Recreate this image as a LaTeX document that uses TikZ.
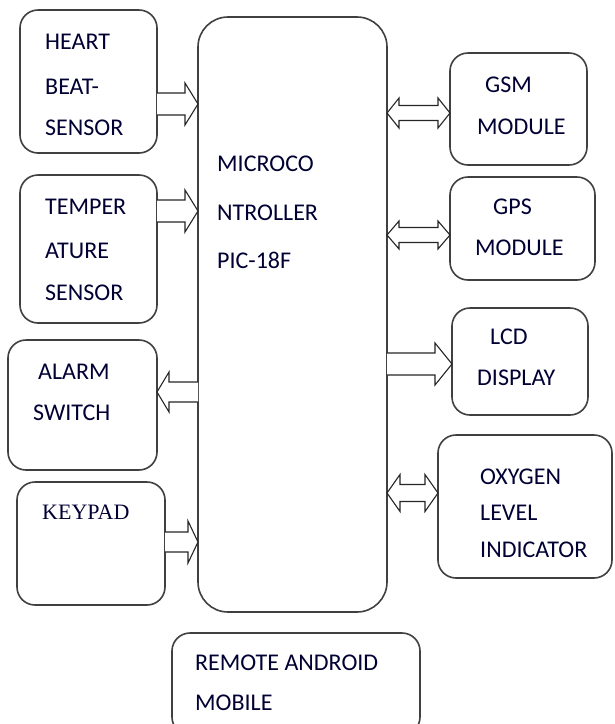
\documentclass[tikz,border=0pt]{standalone}
\usepackage{fontspec}
\setmainfont{Carlito}
\newfontfamily\timesfont{Liberation Serif}
\usetikzlibrary{calc}
\tikzset{
  box/.style={draw=black!75, line width=1.6pt, rounded corners=18pt, inner sep=0pt, outer sep=0pt},
  bigbox/.style={box, rounded corners=30pt},
  lbl/.style={anchor=west, inner sep=0pt, text height=15pt, text depth=0pt, font=\fontsize{24}{24}\selectfont, text=black!80!blue},
  blk/.style={draw=black!85, line width=1.1pt, fill=white, line join=miter},
}
% right arrow from #1.east to #2.west at y=#3, shaft half #4, head half #5, head length #6
\newcommand\rarr[6]{%
  \draw[blk] (#1.east |- 0,#3-#4) -- ($(#2.west |- 0,#3-#4)+(-#6,0)$) -- ($(#2.west |- 0,#3-#5)+(-#6,0)$)
    -- (#2.west |- 0,#3) -- ($(#2.west |- 0,#3+#5)+(-#6,0)$) -- ($(#2.west |- 0,#3+#4)+(-#6,0)$) -- (#1.east |- 0,#3+#4);}
% left arrow from #1.west to #2.east
\newcommand\larr[6]{%
  \draw[blk] (#1.west |- 0,#3-#4) -- ($(#2.east |- 0,#3-#4)+(#6,0)$) -- ($(#2.east |- 0,#3-#5)+(#6,0)$)
    -- (#2.east |- 0,#3) -- ($(#2.east |- 0,#3+#5)+(#6,0)$) -- ($(#2.east |- 0,#3+#4)+(#6,0)$) -- (#1.west |- 0,#3+#4);}
% double arrow between #1.east and #2.west
\newcommand\darr[6]{%
  \draw[blk] (#1.east |- 0,#3) -- ($(#1.east |- 0,#3-#5)+(#6,0)$) -- ($(#1.east |- 0,#3-#4)+(#6,0)$)
    -- ($(#2.west |- 0,#3-#4)+(-#6,0)$) -- ($(#2.west |- 0,#3-#5)+(-#6,0)$) -- (#2.west |- 0,#3)
    -- ($(#2.west |- 0,#3+#5)+(-#6,0)$) -- ($(#2.west |- 0,#3+#4)+(-#6,0)$)
    -- ($(#1.east |- 0,#3+#4)+(#6,0)$) -- ($(#1.east |- 0,#3+#5)+(#6,0)$) -- cycle;}
\begin{document}
\begin{tikzpicture}[x=1pt, y=-1pt]
\useasboundingbox[fill=white] (0,0) rectangle (615,724);
\begin{scope}
\clip (0,0) rectangle (615,724);
% boxes
\node[box, minimum width=137pt, minimum height=143pt] (hb) at (88.5,81.5) {};
\node[box, minimum width=137pt, minimum height=148pt] (temp) at (88.5,249) {};
\node[box, minimum width=149pt, minimum height=130pt] (alarm) at (82.5,405) {};
\node[box, minimum width=148pt, minimum height=123pt] (key) at (91,543.5) {};
\node[bigbox, minimum width=189pt, minimum height=595pt] (mcu) at (292.5,314.5) {};
\node[box, minimum width=137pt, minimum height=112pt] (gsm) at (518.5,109) {};
\node[box, minimum width=145pt, minimum height=103pt] (gps) at (522.5,228.5) {};
\node[box, minimum width=136pt, minimum height=107pt] (lcd) at (520,361.5) {};
\node[box, minimum width=174pt, minimum height=143pt] (oxy) at (525,506.5) {};
\node[box, minimum width=248pt, minimum height=102pt] (remote) at (296,684) {};
\end{scope}
% texts
\node[lbl] (t1) at (45,42) {HEART};
\node[lbl] (t2) at (45,87) {BEAT-};
\node[lbl] (t3) at (45,128) {SENSOR};
\node[lbl] (t4) at (45,207) {TEMPER};
\node[lbl] (t5) at (45,251) {ATURE};
\node[lbl] (t6) at (45,293) {SENSOR};
\node[lbl] (t7) at (38,372) {ALARM};
\node[lbl] (t8) at (33,413) {SWITCH};
\node[lbl, font=\timesfont\fontsize{22}{22}\selectfont] (t9) at (42,512) {KEYPAD};
\node[lbl] (m1) at (217,164) {MICROCO};
\node[lbl] (m2) at (217,213) {NTROLLER};
\node[lbl] (m3) at (217,261) {PIC-18F};
\node[lbl] (g1) at (485,85) {GSM};
\node[lbl] (g2) at (477,127) {MODULE};
\node[lbl] (p1) at (493,207) {GPS};
\node[lbl] (p2) at (475,248) {MODULE};
\node[lbl] (l1) at (490,337) {LCD};
\node[lbl] (l2) at (477,378) {DISPLAY};
\node[lbl] (o1) at (480,477) {OXYGEN};
\node[lbl] (o2) at (480,513) {LEVEL};
\node[lbl] (o3) at (480,550) {INDICATOR};
\node[lbl] (r1) at (195,663) {REMOTE ANDROID};
\node[lbl] (r2) at (195,703) {MOBILE};
% arrows
\rarr{hb}{mcu}{104}{11}{21}{13}
\rarr{temp}{mcu}{211}{11}{21}{13}
\larr{mcu}{alarm}{392}{10}{20}{12}
\rarr{key}{mcu}{542}{10}{21}{10}
\darr{mcu}{gsm}{113}{7.5}{15}{12}
\darr{mcu}{gps}{235}{7.5}{14}{12}
\rarr{mcu}{lcd}{364}{11}{21}{17}
\darr{mcu}{oxy}{493}{8.5}{18.5}{13}
\end{tikzpicture}
\end{document}
